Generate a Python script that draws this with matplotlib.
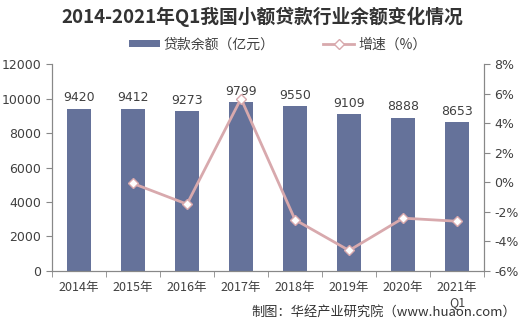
import matplotlib.pyplot as plt
import numpy as np

plt.rcParams['font.family'] = ['Noto Sans CJK SC', 'DejaVu Sans']

years = ['2014年', '2015年', '2016年', '2017年', '2018年', '2019年', '2020年', '2021年\nQ1']
balance = [9420, 9412, 9273, 9799, 9550, 9109, 8888, 8653]
growth = [None, -0.08, -1.48, 5.67, -2.54, -4.62, -2.43, -2.64]
left_ticks = [0, 2000, 4000, 6000, 8000, 10000, 12000]
right_ticks = [-6, -4, -2, 0, 2, 4, 6, 8]

bar_color = '#65729a'
line_color = '#d8a9ad'
axis_color = '#888888'
text_color = '#404040'

fig = plt.figure(figsize=(5.24, 3.24), dpi=100)
ax = fig.add_axes([0.099, 0.164, 0.825, 0.638])
ax2 = ax.twinx()

x = np.arange(len(years))
bars = ax.bar(x, balance, width=0.45, color=bar_color, label='贷款余额（亿元）', zorder=2)
for xi, v in zip(x, balance):
    ax.text(xi, v + 250, str(v), ha='center', va='bottom', fontsize=9, color=text_color,
            family=['DejaVu Sans'])

gx = [xi for xi, g in zip(x, growth) if g is not None]
gy = [g for g in growth if g is not None]
ax2.plot(gx, gy, color=line_color, lw=2, marker='D', markersize=5,
         markerfacecolor='white', markeredgecolor=line_color, label='增速（%）', zorder=3)

ax.set_xlim(-0.5, len(years) - 0.5)
ax.set_ylim(0, 12000)
ax.set_yticks(left_ticks)
ax2.set_ylim(-6, 8)
ax2.set_yticks(right_ticks)
ax2.set_yticklabels([f'{t}%' for t in right_ticks])

ax.set_xticks(x)
ax.set_xticklabels(years)
ax.set_xticks(np.arange(-0.5, len(years), 1), minor=True)
ax.tick_params(axis='x', which='major', length=0, pad=7)
ax.tick_params(axis='x', which='minor', length=4, color=axis_color)

for a in (ax, ax2):
    for s in a.spines.values():
        s.set_color(axis_color)
    a.spines['top'].set_visible(False)
    a.tick_params(axis='y', length=4, color=axis_color, labelsize=9, labelcolor=text_color)
    for lab in a.get_yticklabels():
        lab.set_family(['DejaVu Sans'])
ax.tick_params(axis='x', labelsize=9, labelcolor=text_color)
ax.set_zorder(ax2.get_zorder() - 1)
ax2.patch.set_visible(False)

fig.text(0.5, 0.948, '2014-2021年Q1我国小额贷款行业余额变化情况', ha='center', va='center',
         fontsize=13.5, fontweight='bold', color='#333333')

h1, l1 = ax.get_legend_handles_labels()
h2, l2 = ax2.get_legend_handles_labels()
fig.legend(h1 + h2, l1 + l2, loc='center', bbox_to_anchor=(0.53, 0.862), ncol=2,
           frameon=False, fontsize=10, handlelength=2.2, handleheight=0.45,
           columnspacing=3.5, handletextpad=0.3, labelcolor=text_color)

fig.text(0.985, 0.035, '制图：华经产业研究院（www.huaon.com）', ha='right', va='center',
         fontsize=9.5, color='#333333')

fig.savefig('out.png', dpi=100)
